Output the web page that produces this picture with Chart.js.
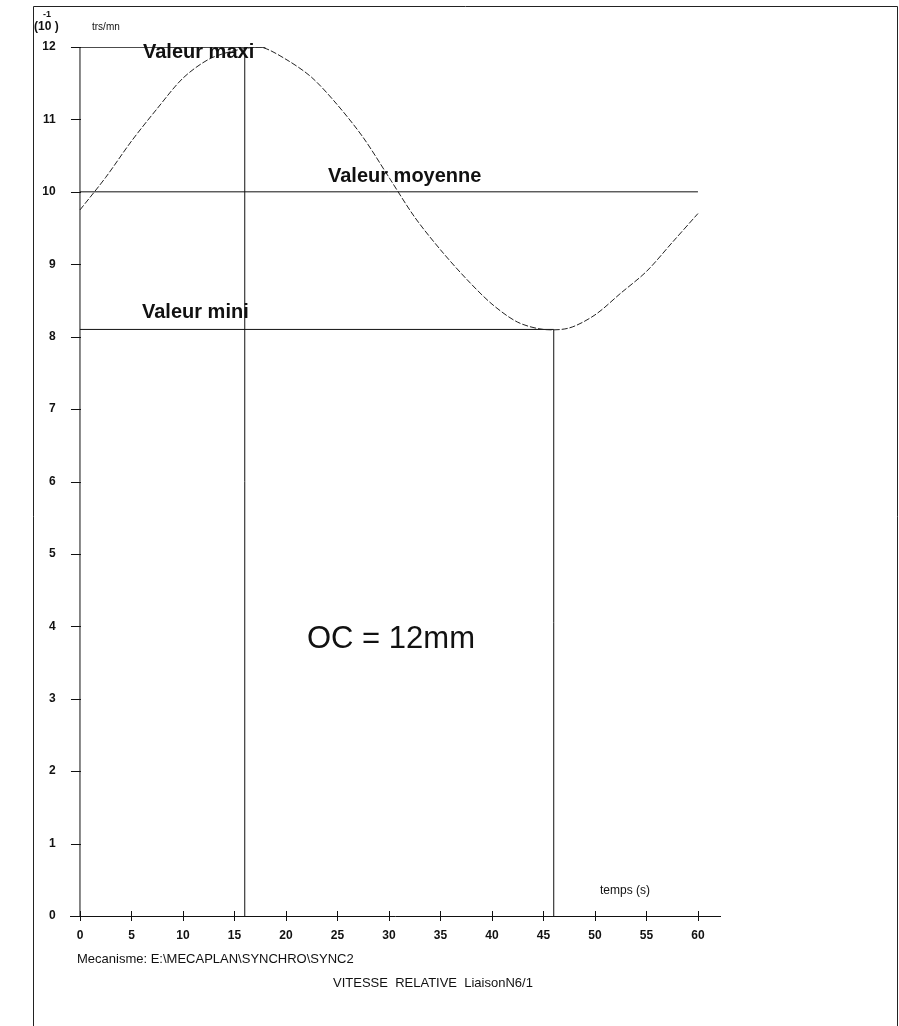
<!DOCTYPE html>
<html>
<head>
<meta charset="utf-8">
<script src="https://cdn.jsdelivr.net/npm/chart.js@4/dist/chart.umd.min.js"></script>
<style>
  html, body { margin: 0; padding: 0; background: #fff; }
  #wrap { width: 899px; height: 1026px; }
</style>
</head>
<body>
<div id="wrap"><canvas id="chart" width="899" height="1026"></canvas></div>
<script>
// Données
const timeS = [0, 2.5, 5, 7.5, 10, 12.5, 15, 17.5, 20, 22.5, 25, 27.5, 30, 32.5, 35, 37.5, 40, 42.5, 45, 47.5, 50, 52.5, 55, 57.5, 60];
const speed = [9.75, 10.2, 10.7, 11.15, 11.57, 11.83, 11.95, 12.0, 11.83, 11.58, 11.2, 10.75, 10.2, 9.65, 9.2, 8.8, 8.45, 8.2, 8.1, 8.12, 8.3, 8.6, 8.9, 9.3, 9.7];

const xTicks = [0, 5, 10, 15, 20, 25, 30, 35, 40, 45, 50, 55, 60];
const yTicks = [0, 1, 2, 3, 4, 5, 6, 7, 8, 9, 10, 11, 12];

const maxValue = 12;
const meanValue = 10;
const minValue = 8.1;
const maxTime = 16;
const minTime = 46;
const maxLineEnd = 18;
const meanLineEnd = 60;

const ink = '#111';

function seg(x1, y1, x2, y2) {
    return [{ x: x1, y: y1 }, { x: x2, y: y2 }];
}

const lineStyle = { borderColor: ink, borderWidth: 1, pointRadius: 0, fill: false, tension: 0 };

// Cadre, repères des axes et textes
const decorPlugin = {
    id: 'decor',
    beforeDraw(chart) {
        const ctx = chart.ctx;
        ctx.save();
        ctx.fillStyle = '#fff';
        ctx.fillRect(0, 0, chart.width, chart.height);
        ctx.strokeStyle = '#222';
        ctx.lineWidth = 1;
        ctx.beginPath();
        ctx.moveTo(33.5, 1026);
        ctx.lineTo(33.5, 6.5);
        ctx.lineTo(897.5, 6.5);
        ctx.lineTo(897.5, 1026);
        ctx.stroke();
        ctx.restore();
    },
    afterDatasetsDraw(chart) {
        const ctx = chart.ctx;
        const xs = chart.scales.x;
        const ys = chart.scales.y;
        const x0 = xs.getPixelForValue(0);
        const y0 = ys.getPixelForValue(0);
        ctx.save();
        ctx.strokeStyle = ink;
        ctx.lineWidth = 1;
        ctx.beginPath();
        yTicks.forEach(v => {
            const py = Math.round(ys.getPixelForValue(v)) + 0.5;
            ctx.moveTo(x0 - 9, py);
            ctx.lineTo(x0 + 1, py);
        });
        xTicks.forEach(v => {
            const px = Math.round(xs.getPixelForValue(v)) + 0.5;
            ctx.moveTo(px, y0 - 5);
            ctx.lineTo(px, y0 + 5);
        });
        ctx.stroke();

        ctx.fillStyle = ink;
        ctx.textBaseline = 'alphabetic';
        ctx.textAlign = 'left';
        ctx.font = 'bold 12px "Liberation Sans", Arial, sans-serif';
        ctx.fillText('(10 )', 34, 30);
        ctx.font = 'bold 9px "Liberation Sans", Arial, sans-serif';
        ctx.fillText('-1', 43, 17);
        ctx.font = '10px "Liberation Sans", Arial, sans-serif';
        ctx.fillText('trs/mn', 92, 30);

        ctx.font = 'bold 20px "Liberation Sans", Arial, sans-serif';
        ctx.fillText('Valeur maxi', 143, 58);
        ctx.fillText('Valeur moyenne', 328, 182);
        ctx.fillText('Valeur mini', 142, 318);

        ctx.font = '31px "Liberation Sans", Arial, sans-serif';
        ctx.fillText('OC = 12mm', 307, 648);

        ctx.font = '12px "Liberation Sans", Arial, sans-serif';
        ctx.fillText('temps (s)', 600, 894);

        ctx.font = '13px "Liberation Sans", Arial, sans-serif';
        ctx.fillText('Mecanisme: E:\\MECAPLAN\\SYNCHRO\\SYNC2', 77, 963);
        ctx.fillText('VITESSE  RELATIVE  LiaisonN6/1', 333, 987);
        ctx.restore();
    }
};

const ctx = document.getElementById('chart').getContext('2d');
new Chart(ctx, {
    type: 'line',
    data: {
        datasets: [
            {
                label: 'Vitesse',
                data: timeS.map((t, i) => ({ x: t, y: speed[i] })),
                borderColor: '#222',
                borderWidth: 1,
                borderDash: [6, 2],
                pointRadius: 0,
                fill: false,
                tension: 0.3
            },
            { label: 'axe', data: seg(0, 0, 0, maxValue), ...lineStyle },
            { label: 'maxi', data: seg(0, maxValue, maxLineEnd, maxValue), ...lineStyle, borderWidth: 1.5 },
            { label: 't maxi', data: seg(maxTime, 0, maxTime, maxValue), ...lineStyle },
            { label: 'moyenne', data: seg(0, meanValue, meanLineEnd, meanValue), ...lineStyle },
            { label: 'mini', data: seg(0, minValue, minTime, minValue), ...lineStyle },
            { label: 't mini', data: seg(minTime, 0, minTime, minValue), ...lineStyle }
        ]
    },
    options: {
        responsive: false,
        animation: false,
        events: [],
        layout: { padding: { left: 0, top: 47, right: 178.4, bottom: 70 } },
        plugins: {
            legend: { display: false },
            tooltip: { enabled: false },
            title: { display: false }
        },
        scales: {
            x: {
                type: 'linear',
                min: -0.9,
                max: 62.2,
                afterBuildTicks: scale => { scale.ticks = xTicks.map(v => ({ value: v })); },
                afterFit: scale => { scale.height = 40; },
                grid: { display: false, drawTicks: false },
                border: { display: true, color: ink, width: 1 },
                ticks: {
                    padding: 12,
                    color: ink,
                    font: { family: '"Liberation Sans", Arial, sans-serif', size: 12, weight: 'bold' },
                    maxRotation: 0
                }
            },
            y: {
                type: 'linear',
                min: 0,
                max: 12,
                afterBuildTicks: scale => { scale.ticks = yTicks.map(v => ({ value: v })); },
                afterFit: scale => { scale.width = 70.7; },
                grid: { display: false, drawTicks: false },
                border: { display: false },
                ticks: {
                    padding: 15,
                    color: ink,
                    font: { family: '"Liberation Sans", Arial, sans-serif', size: 12, weight: 'bold' }
                }
            }
        }
    },
    plugins: [decorPlugin]
});
</script>
</body>
</html>
